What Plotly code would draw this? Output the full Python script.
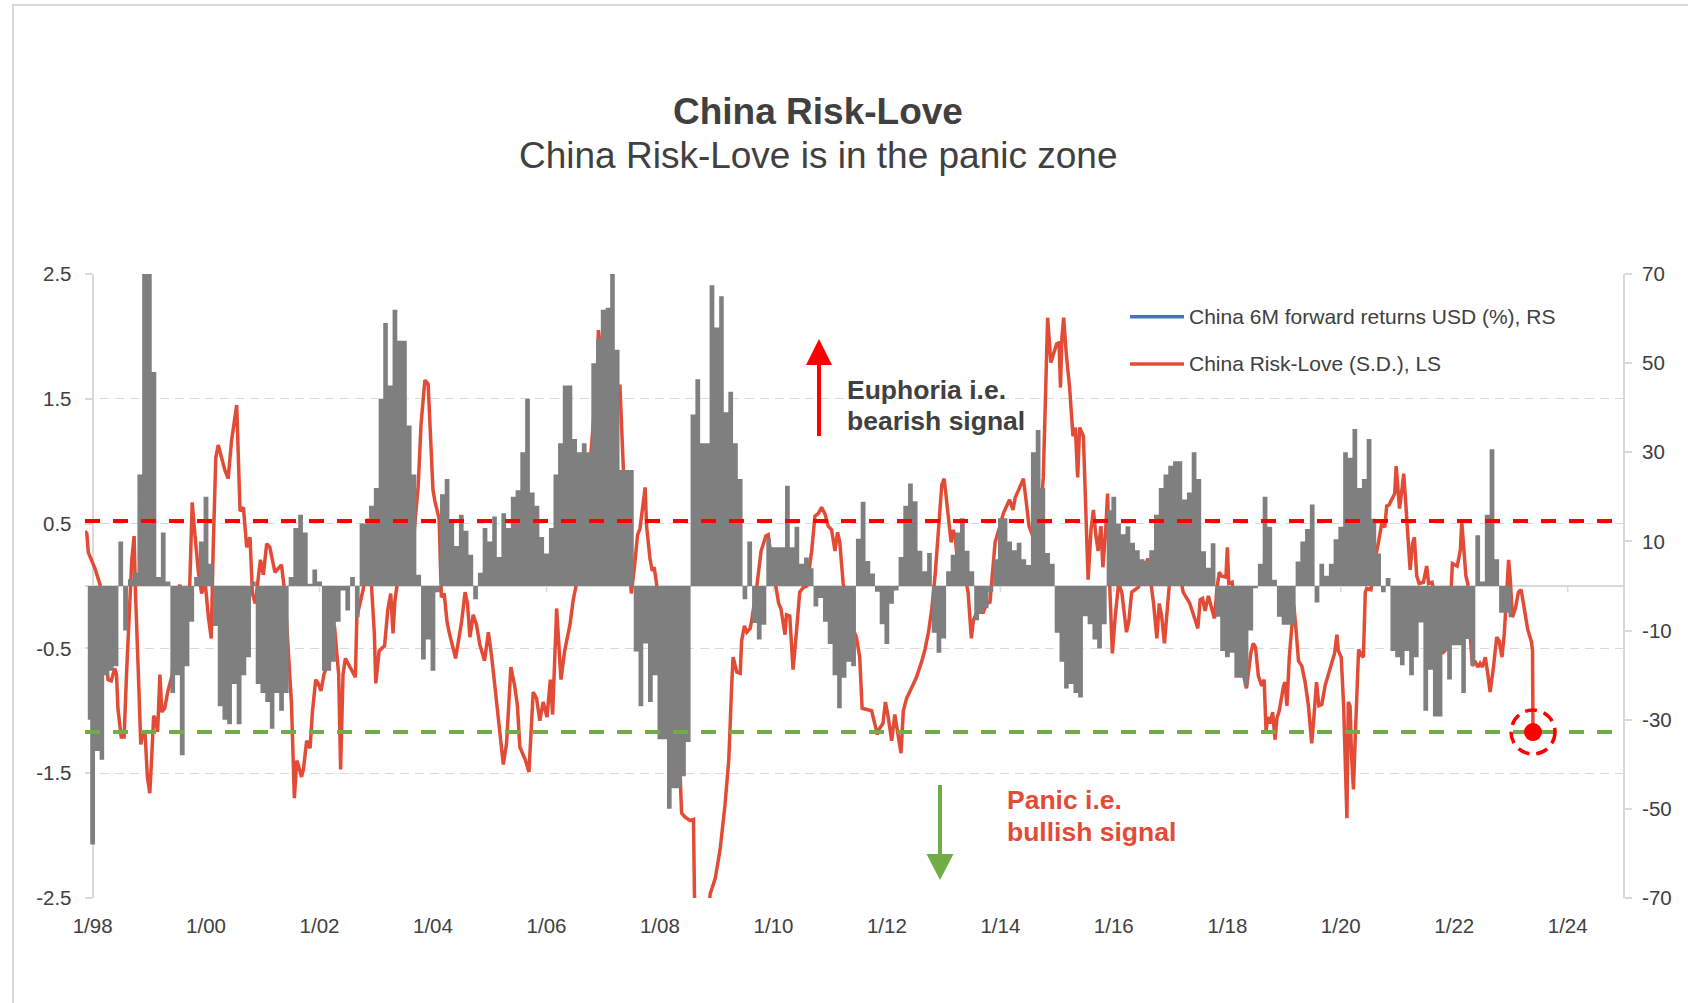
import numpy as np
import pandas as pd
import plotly.graph_objects as go

# ---------------------------------------------------------------------------
# Data
# ---------------------------------------------------------------------------
# China Risk-Love (standard deviations). Timestamps are given as months counted
# from January 1998 (fractional part = position inside the month).
risk_love_month = [
    -1.6, -1.2, -0.9, 0.5, 1.6, 2.3, 3.0, 3.3, 4.0, 4.7, 5.1, 5.4, 6.1, 6.7, 7.2, 7.6, 8.3, 8.8, 9.1, 9.7,
    10.2, 10.7, 11.1, 11.6, 12.1, 12.5, 12.9, 13.3, 13.8, 14.3, 14.7, 15.3, 16.0, 16.9, 17.8, 18.5, 19.5, 20.4, 21.1, 21.6,
    22.4, 23.1, 23.8, 24.5, 25.1, 25.5, 26.1, 26.6, 27.3, 28.0, 28.7, 29.4, 30.5, 30.8, 31.2, 31.9, 32.6, 33.3, 33.8, 34.4,
    35.0, 35.5, 36.1, 36.8, 37.5, 38.0, 38.6, 39.3, 40.0, 40.7, 41.5, 42.1, 42.7, 43.2, 43.5, 44.2, 44.6, 45.3, 46.0, 46.5,
    47.2, 47.7, 48.3, 48.9, 49.5, 50.5, 51.2, 52.1, 52.5, 53.0, 53.5, 54.5, 55.2, 55.6, 55.9, 56.5, 57.3, 58.0, 58.3, 59.0,
    59.6, 59.9, 60.6, 61.8, 62.5, 63.1, 63.6, 64.0, 64.7, 65.5, 66.5, 67.5, 68.2, 68.9, 69.5, 70.3, 71.0, 72.0, 72.4, 73.3,
    73.8, 74.4, 75.0, 75.5, 76.8, 77.4, 78.1, 78.8, 79.3, 79.8, 80.5, 81.2, 81.9, 82.9, 83.7, 84.4, 85.5, 86.2, 86.9, 87.6,
    88.5, 89.3, 89.9, 90.4, 91.5, 92.3, 93.2, 93.9, 94.6, 95.3, 96.1, 96.8, 97.3, 98.2, 99.1, 99.9, 101.0, 101.7, 102.4, 103.2,
    104.2, 105.2, 105.9, 106.1, 106.6, 107.0, 107.3, 107.5, 108.5, 109.5, 110.5, 111.6, 112.3, 113.2, 114.0, 114.7, 115.3, 115.8, 116.5, 116.9,
    117.2, 117.6, 117.9, 118.4, 118.8, 119.3, 120.0, 121.0, 122.0, 123.0, 124.3, 124.6, 125.3, 126.4, 127.1, 127.3, 128.0, 129.0, 130.0, 130.6,
    131.7, 132.7, 133.8, 134.6, 135.2, 135.5, 136.3, 137.0, 137.3, 137.9, 138.4, 139.1, 139.4, 140.5, 141.4, 142.4, 142.9, 143.7, 145.1, 145.6,
    146.5, 146.8, 147.5, 148.2, 148.9, 149.6, 150.4, 151.1, 152.1, 152.8, 153.5, 154.2, 154.9, 155.6, 156.3, 157.0, 157.6, 158.1, 158.8, 160.2,
    161.6, 162.3, 162.8, 164.8, 166.0, 166.5, 167.2, 167.7, 168.2, 169.0, 169.7, 170.1, 171.0, 171.5, 172.2, 173.2, 174.3, 175.4, 176.1, 176.8,
    177.5, 178.2, 178.9, 179.6, 180.1, 180.6, 181.1, 181.6, 182.1, 182.5, 183.1, 184.5, 185.2, 185.9, 186.3, 187.0, 188.4, 189.1, 189.8, 190.3,
    190.9, 191.9, 192.6, 193.3, 194.0, 194.7, 195.2, 195.8, 196.9, 197.4, 198.1, 198.8, 200.0, 201.1, 201.6, 202.0, 202.7, 203.3, 203.9, 204.4,
    204.7, 205.0, 205.4, 206.0, 206.7, 207.4, 207.9, 208.4, 208.8, 209.6, 210.0, 210.6, 211.2, 211.7, 212.2, 212.7, 213.3, 213.7, 214.3, 214.7,
    215.2, 215.7, 216.3, 217.0, 217.7, 218.7, 219.2, 219.8, 221.2, 222.6, 223.2, 224.4, 225.1, 225.6, 226.1, 226.7, 227.2, 227.9, 229.5, 230.0,
    230.7, 232.1, 233.3, 233.8, 234.3, 234.8, 235.3, 236.0, 236.7, 237.3, 237.8, 238.3, 238.8, 239.7, 240.0, 240.3, 241.0, 242.0, 243.1, 244.1,
    245.0, 245.5, 246.0, 246.6, 247.3, 247.8, 248.2, 248.6, 249.1, 249.6, 250.1, 250.5, 251.0, 251.4, 251.9, 252.2, 252.6, 253.1, 253.7, 254.1,
    254.5, 255.1, 255.8, 256.5, 257.2, 257.9, 258.4, 258.9, 259.4, 260.0, 260.7, 261.4, 262.1, 262.7, 263.2, 263.5, 264.1, 264.6, 264.9, 265.3,
    265.6, 266.0, 266.3, 266.7, 267.1, 267.8, 268.5, 268.8, 269.2, 269.5, 270.4, 270.9, 271.6, 272.1, 272.7, 273.3, 273.7, 274.2, 274.8, 275.4,
    275.7, 276.0, 276.4, 276.8, 277.3, 277.6, 278.2, 278.7, 279.2, 279.6, 280.1, 280.6, 281.5, 282.2, 282.6, 283.3, 284.3, 285.4, 286.0, 286.4,
    287.1, 287.6, 288.6, 289.3, 289.6, 290.0, 290.5, 290.9, 291.4, 291.9, 292.4, 293.0, 293.5, 294.0, 294.6, 295.1, 295.6, 296.3, 297.0, 297.5,
    298.1, 298.6, 299.1, 299.5, 299.8, 300.3, 300.9, 301.6, 302.2, 302.9, 303.6, 304.4, 304.6, 304.7,
]
risk_love_sd = [
    0.44, 0.42, 0.27, 0.14, 0.01, -0.15, -0.58, -0.75, -0.76, -0.66, -0.71, -0.98, -1.21, -1.21, -0.71, -0.38, 0.21, 0.40, -0.06, -0.71,
    -1.27, -1.17, -1.17, -1.53, -1.66, -1.37, -1.04, -1.07, -1.17, -0.71, -1.01, -0.98, -0.84, -0.71, -0.06, 0.01, -0.19, -0.22, 0.67, 0.44,
    0.11, -0.06, 0.04, -0.25, -0.42, 0.27, 1.03, 1.13, 1.03, 0.93, 0.86, 1.16, 1.45, 1.13, 0.60, 0.63, 0.31, 0.39, -0.06, -0.14,
    0.08, 0.21, 0.09, 0.34, 0.31, 0.21, 0.11, 0.14, 0.17, -0.06, -0.58, -0.94, -1.70, -1.40, -1.43, -1.53, -1.47, -1.24, -1.30, -1.01,
    -0.75, -0.78, -0.84, -0.71, -0.65, -0.38, -0.32, -0.71, -1.47, -0.71, -0.58, -0.65, -0.71, -0.73, -0.25, -0.15, -0.02, 0.37, 0.54, 0.01,
    -0.38, -0.78, -0.52, -0.48, -0.19, -0.06, -0.38, -0.12, 0.08, 0.05, 0.10, 0.20, 0.55, 0.80, 1.30, 1.65, 1.62, 0.77, 0.68, 0.54,
    -0.09, -0.06, -0.29, -0.38, -0.58, -0.44, -0.28, -0.05, -0.14, -0.41, -0.23, -0.31, -0.47, -0.60, -0.37, -0.57, -0.96, -1.19, -1.43, -1.26,
    -0.65, -0.80, -0.96, -1.29, -1.39, -1.49, -0.85, -0.90, -1.08, -0.93, -1.05, -0.75, -1.03, -0.18, -0.75, -0.52, -0.31, -0.11, 0.02, 0.30,
    0.60, 0.95, 1.36, 1.40, 1.40, 2.05, 1.95, 1.43, 1.50, 1.55, 1.60, 1.60, 0.95, 0.40, -0.06, 0.17, 0.41, 0.46, 0.68, 0.79,
    0.48, 0.28, 0.22, 0.12, 0.15, 0.02, -0.30, -0.60, -0.90, -1.20, -1.52, -1.82, -1.85, -1.88, -1.87, -2.47, -2.90, -3.00, -2.80, -2.47,
    -2.34, -2.11, -1.75, -1.39, -0.80, -0.57, -0.69, -0.70, -0.44, -0.32, -0.37, -0.34, -0.28, 0.00, 0.28, 0.40, 0.41, 0.18, -0.14, -0.18,
    -0.39, -0.23, -0.24, -0.67, -0.37, -0.05, -0.01, 0.00, 0.28, 0.56, 0.58, 0.63, 0.58, 0.48, 0.45, 0.28, 0.43, 0.35, 0.02, -0.28,
    -0.41, -0.57, -0.98, -1.00, -1.19, -1.14, -1.10, -0.93, -1.03, -1.24, -1.03, -1.13, -1.34, -1.00, -0.90, -0.82, -0.73, -0.60, -0.50, -0.37,
    -0.18, 0.09, 0.45, 0.81, 0.86, 0.68, 0.48, 0.35, 0.45, 0.38, 0.15, 0.09, -0.05, -0.42, -0.28, -0.21, -0.21, -0.14, -0.13, 0.09,
    0.35, 0.48, 0.58, 0.64, 0.69, 0.61, 0.71, 0.76, 0.86, 0.71, 0.48, 0.41, 0.31, 0.87, 1.59, 2.15, 1.79, 1.87, 1.94, 1.95,
    1.59, 1.99, 2.15, 1.86, 1.59, 1.20, 1.27, 0.87, 1.27, 1.20, 0.74, 0.05, 0.45, 0.61, 0.41, 0.28, 0.48, 0.15, 0.45, 0.74,
    -0.05, -0.54, -0.24, 0.02, -0.05, -0.37, -0.28, -0.05, -0.01, 0.15, 0.22, -0.14, -0.42, -0.14, -0.24, -0.46, -0.24, 0.09, 0.28, 0.09,
    -0.05, -0.14, -0.28, -0.34, -0.11, -0.10, -0.20, -0.08, -0.18, -0.26, -0.02, 0.11, 0.08, 0.07, 0.31, 0.02, 0.03, -0.31, -0.64, -0.82,
    -0.54, -0.46, -0.49, -0.72, -0.80, -0.75, -1.16, -1.05, -1.10, -1.01, -1.23, -1.06, -1.00, -0.90, -0.80, -0.77, -0.96, -0.57, -0.31, -0.15,
    -0.31, -0.60, -0.64, -0.77, -0.96, -1.26, -1.03, -0.77, -0.96, -0.95, -0.80, -0.70, -0.60, -0.54, -0.39, -0.52, -0.57, -0.96, -1.36, -1.86,
    -0.93, -0.96, -1.36, -1.63, -1.19, -0.51, -0.56, -0.57, -0.05, -0.02, -0.03, 0.11, 0.28, 0.38, 0.51, 0.47, 0.64, 0.65, 0.70, 0.74,
    0.96, 0.80, 0.62, 0.74, 0.90, 0.75, 0.44, 0.13, 0.34, 0.39, 0.08, 0.02, 0.03, 0.16, 0.02, 0.03, -0.15, -0.54, -0.52, -0.31,
    -0.21, 0.18, 0.16, 0.29, 0.52, 0.34, 0.08, 0.02, -0.39, -0.64, -0.60, -0.65, -0.62, -0.65, -0.57, -0.70, -0.85, -0.65, -0.41, -0.44,
    -0.57, -0.38, -0.05, 0.21, 0.08, -0.25, -0.18, -0.05, -0.03, -0.18, -0.35, -0.45, -0.52, -1.17,
]

# China 6M forward returns in USD (%), one value per month from December 1997.
fwd_return_start = "1997-12-01"
fwd_return_pct = [
    -30, -58, -37, -39, -20, -19, -18, 10, -10, 1.5, 3, 25,
    85, 85, 48, 2, 12, 1, -24, -20, -38, -18, -8, 2,
    10, 20, 5, -9, -27, -30, -31, -22, -31, -20, -16, 1,
    -22, -24, -26, -32, -24, -28, -24, 2, 13, 16, 12, 0.5,
    3.7, 1, -19, -19, -17, -8, -1, -5.5, 2, -7, 14, 14,
    18, 22, 42, 59, 45, 62, 55, 55, 36, 25, 2.5, -16.5,
    -12, -19, -1.4, 20.6, 24, 15, 9, 16, 12.4, 7, -3, 3,
    13, 10, 15.6, 6.5, 16.3, 13, 20, 21.5, 30, 42, 21, 18,
    11, 7.3, 13, 25, 32, 45, 45, 33, 30, 32, 30, 50,
    55.5, 62, 62.4, 75, 53, 26, 26, 26, -14.7, -27, -12.9, -26,
    -20, -34.4, -34.4, -50, -45.4, -45.4, -42.7, -35, 38.5, 46.4, 32, 32,
    67.5, 58, 65, 39, 43.6, 32, 24, -3, 10, -8.3, -12, -8.7,
    10.6, 8.7, 8.7, 8.7, 22.5, 8.7, 13.3, 5, 6.4, 4, -4.6, -2.7,
    -8, -13, -20, -27.4, -20.6, -17, -18, 10.6, 18.9, 5.6, 2.8, -1.3,
    -8.6, -13, -4, -1, 6.5, 18, 23, 19, 7.9, 3.3, 7.4, -10.5,
    -15, -11.8, 3.3, 7, 12, 15.2, 7.9, 3.3, -7.7, -6, -5, -1.3,
    6, 15.2, 15.2, 10, 8, 9.7, 6, 4.7, 30, 35, 22, 7.4,
    5, -10.5, -17, -23, -22, -24, -25, -6.8, -8.6, -12, -14, -8.6,
    17, 20, 14, 11.6, 13.4, 9.7, 8, 6, 5.6, 8, 16, 22,
    25, 27, 28, 28, 19.4, 21, 30, 24, 7.8, 4.1, 9.6, -6.9,
    -14.6, -16, -15, -20.6, -20.6, -22.4, -10, -0.5, 5, 20, 13.3, 1.4,
    -6.9, -8.7, -8.7, -8.7, 5.5, 10, 12.8, 18.3, -3.7, 5, 2.3, 5,
    10.5, 13.3, 30, 28.8, 35.2, 22, 24, 33, 15.1, 7.3, -1.4, 1.8,
    -14.6, -16, -17.8, -14.6, -20, -16, -8.2, -28, -18.8, -29.3, -29.3, -14.6,
    -21, -13.3, -13.3, -24, -11.9, -17.8, 11.4, 1, 16, 30.7, 6, -6,
    -6, -7,
]

# Signal thresholds on the Risk-Love scale
euphoria_level = 0.52
panic_level = -1.17

x_tick_dates = ["1998-01-01", "2000-01-01", "2002-01-01", "2004-01-01", "2006-01-01",
                "2008-01-01", "2010-01-01", "2012-01-01", "2014-01-01", "2016-01-01",
                "2018-01-01", "2020-01-01", "2022-01-01", "2024-01-01"]
x_tick_labels = ["1/98", "1/00", "1/02", "1/04", "1/06", "1/08", "1/10",
                 "1/12", "1/14", "1/16", "1/18", "1/20", "1/22", "1/24"]
left_ticks = [2.5, 1.5, 0.5, -0.5, -1.5, -2.5]
right_ticks = [70, 50, 30, 10, -10, -30, -50, -70]

series_names = ["China 6M forward returns USD (%), RS", "China Risk-Love (S.D.), LS"]

# ---------------------------------------------------------------------------
# Styling / page geometry
# ---------------------------------------------------------------------------
W, H = 1688, 1003
PLOT_L, PLOT_R, PLOT_T, PLOT_B = 85, 1623, 274, 898
X_RANGE = ["1997-11-13", "2024-12-22"]

FONT = "Liberation Sans, Arial, Helvetica, sans-serif"
TEXT = "#404040"
LINE_RED = "#e24c37"
BAR_GREY = "#7f7f7f"
AXIS_GREY = "#d9d9d9"
PURE_RED = "#ff0000"
GREEN = "#70ad47"
BLUE = "#4472c4"


def px_x(px):
    return (px - PLOT_L) / (PLOT_R - PLOT_L)


def px_y(py):
    return (PLOT_B - py) / (PLOT_B - PLOT_T)


def month_offset_to_date(m):
    base = pd.Timestamp("1998-01-01")
    whole = int(np.floor(m))
    start = base + pd.DateOffset(months=whole)
    end = base + pd.DateOffset(months=whole + 1)
    return start + (end - start) * (m - whole)


line_dates = [month_offset_to_date(m) for m in risk_love_month]
bar_dates = pd.date_range(fwd_return_start, periods=len(fwd_return_pct), freq="MS")

fig = go.Figure()

# Risk-Love line (left scale)
fig.add_trace(go.Scatter(
    x=line_dates, y=risk_love_sd, mode="lines", name=series_names[1],
    line=dict(color=LINE_RED, width=3.5), yaxis="y", showlegend=False,
))

# Forward returns drawn as contiguous monthly columns (right scale)
fig.add_trace(go.Scatter(
    x=bar_dates, y=fwd_return_pct, mode="lines", name=series_names[0],
    line=dict(color=BAR_GREY, width=0, shape="hvh"),
    fill="tozeroy", fillcolor=BAR_GREY, yaxis="y2", showlegend=False,
))

shapes = []

# Outer frame
shapes.append(dict(type="rect", xref="paper", yref="paper",
                   x0=px_x(13), x1=1.3, y0=-0.5, y1=px_y(5),
                   line=dict(color=AXIS_GREY, width=2), layer="below"))

# Tick marks hanging under the zero line
for d in x_tick_dates:
    shapes.append(dict(type="line", xref="x", yref="y", x0=d, x1=d,
                       ysizemode="pixel", yanchor=0, y0=0, y1=-6,
                       line=dict(color=AXIS_GREY, width=1.5), layer="below"))

# Threshold lines
shapes.append(dict(type="line", xref="x domain", yref="y", x0=0, x1=1,
                   y0=euphoria_level, y1=euphoria_level,
                   line=dict(color=PURE_RED, width=4, dash="15px,13px"), layer="above"))
shapes.append(dict(type="line", xref="x domain", yref="y", x0=0, x1=1,
                   y0=panic_level, y1=panic_level,
                   line=dict(color=GREEN, width=4, dash="15px,13px"), layer="above"))

# Latest reading: dot with dashed ring
last_date, last_val = line_dates[-1], risk_love_sd[-1]
shapes.append(dict(type="circle", xref="x", yref="y", xsizemode="pixel", ysizemode="pixel",
                   xanchor=last_date, yanchor=last_val, x0=-9, x1=9, y0=-9, y1=9,
                   fillcolor=PURE_RED, line=dict(color=PURE_RED, width=0), layer="above"))
shapes.append(dict(type="circle", xref="x", yref="y", xsizemode="pixel", ysizemode="pixel",
                   xanchor=last_date, yanchor=last_val, x0=-22, x1=22, y0=-22, y1=22,
                   line=dict(color=PURE_RED, width=3.5, dash="12px,7px"), layer="above"))

# Euphoria arrow (up, red)
ax_x = px_x(819)
hw = 13 / (PLOT_R - PLOT_L)
shapes.append(dict(type="line", xref="paper", yref="paper", x0=ax_x, x1=ax_x,
                   y0=px_y(436), y1=px_y(362), line=dict(color=PURE_RED, width=4)))
shapes.append(dict(type="path", xref="paper", yref="paper",
                   path=f"M {ax_x - hw},{px_y(365)} L {ax_x + hw},{px_y(365)} L {ax_x},{px_y(339)} Z",
                   fillcolor=PURE_RED, line=dict(width=0)))

# Panic arrow (down, green)
gx = px_x(940)
ghw = 13.5 / (PLOT_R - PLOT_L)
shapes.append(dict(type="line", xref="paper", yref="paper", x0=gx, x1=gx,
                   y0=px_y(785), y1=px_y(857), line=dict(color=GREEN, width=4)))
shapes.append(dict(type="path", xref="paper", yref="paper",
                   path=f"M {gx - ghw},{px_y(854)} L {gx + ghw},{px_y(854)} L {gx},{px_y(880)} Z",
                   fillcolor=GREEN, line=dict(width=0)))

# Legend keys
for name_y, color in ((316.7, BLUE), (364, LINE_RED)):
    shapes.append(dict(type="line", xref="paper", yref="paper",
                       x0=px_x(1130), x1=px_x(1184), y0=px_y(name_y), y1=px_y(name_y),
                       line=dict(color=color, width=3.5)))

annotations = [
    dict(text="<b>China Risk-Love</b>", x=px_x(818), y=px_y(111), font=dict(size=37, color=TEXT)),
    dict(text="China Risk-Love is in the panic zone", x=px_x(818), y=px_y(155.5),
         font=dict(size=37, color=TEXT)),
    dict(text="<b>Euphoria i.e.</b>", x=px_x(845), y=px_y(390), xanchor="left",
         font=dict(size=26.5, color=TEXT)),
    dict(text="<b>bearish signal</b>", x=px_x(845), y=px_y(420.5), xanchor="left",
         font=dict(size=26.5, color=TEXT)),
    dict(text="<b>Panic i.e.</b>", x=px_x(1005), y=px_y(800), xanchor="left",
         font=dict(size=26.5, color=LINE_RED)),
    dict(text="<b>bullish signal</b>", x=px_x(1005), y=px_y(832), xanchor="left",
         font=dict(size=26.5, color=LINE_RED)),
    dict(text=series_names[0], x=px_x(1187), y=px_y(316.5), xanchor="left",
         font=dict(size=21, color=TEXT)),
    dict(text=series_names[1], x=px_x(1187), y=px_y(363.5), xanchor="left",
         font=dict(size=21, color=TEXT)),
]
for a in annotations:
    a.update(xref="paper", yref="paper", showarrow=False)
    a.setdefault("xanchor", "center")
    a.setdefault("yanchor", "middle")

tick_font = dict(family=FONT, size=20.5, color=TEXT)

fig.update_layout(
    width=W, height=H,
    margin=dict(l=PLOT_L, r=W - PLOT_R, t=PLOT_T, b=H - PLOT_B, pad=0),
    paper_bgcolor="white", plot_bgcolor="white",
    font=dict(family=FONT, color=TEXT),
    showlegend=False,
    xaxis=dict(
        type="date", range=X_RANGE, tickvals=x_tick_dates, ticktext=x_tick_labels,
        showgrid=False, zeroline=False, showline=False, ticks="",
        ticklabelstandoff=13, tickfont=tick_font, automargin=False,
    ),
    yaxis=dict(
        range=[-2.5, 2.5], tickvals=left_ticks, ticktext=[f"{v:g}" for v in left_ticks],
        showgrid=True, gridcolor=AXIS_GREY, gridwidth=1.3, griddash="9px,6px",
        zeroline=True, zerolinecolor=AXIS_GREY, zerolinewidth=2,
        showline=True, linecolor=AXIS_GREY, linewidth=2,
        ticks="outside", ticklen=7, tickcolor=AXIS_GREY, tickwidth=1.5,
        anchor="free", position=px_x(92.6), layer="below traces",
        ticklabelstandoff=9, tickfont=tick_font, automargin=False,
    ),
    yaxis2=dict(
        range=[-70, 70], tickvals=right_ticks, ticktext=[str(v) for v in right_ticks],
        overlaying="y", side="right", anchor="x",
        showgrid=False, zeroline=False,
        showline=True, linecolor=AXIS_GREY, linewidth=2,
        ticks="outside", ticklen=7, tickcolor=AXIS_GREY, tickwidth=1.5,
        layer="below traces", ticklabelstandoff=6, tickfont=tick_font, automargin=False,
    ),
    shapes=shapes,
    annotations=annotations,
)

fig.write_html("out.html", config={"displayModeBar": False})
